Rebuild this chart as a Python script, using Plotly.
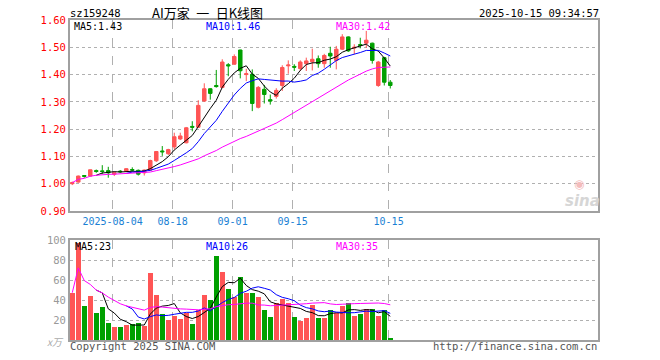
import math
import plotly.graph_objects as go
import pandas as pd

dates = ["07-24", "07-25", "07-28", "07-29", "07-30", "07-31", "08-01", "08-04", "08-05", "08-06",
         "08-07", "08-08", "08-11", "08-12", "08-13", "08-14", "08-15", "08-18", "08-19", "08-20",
         "08-21", "08-22", "08-25", "08-26", "08-27", "08-28", "08-29", "09-01", "09-02", "09-03",
         "09-04", "09-05", "09-08", "09-09", "09-10", "09-11", "09-12", "09-15", "09-16", "09-17",
         "09-18", "09-19", "09-22", "09-23", "09-24", "09-25", "09-26", "09-29", "09-30", "10-09",
         "10-10", "10-13", "10-14", "10-15"]

open_ = [1.000, 1.006, 1.030, 1.028, 1.048, 1.047, 1.048, 1.035, 1.046, 1.046,
         1.052, 1.049, 1.040, 1.050, 1.084, 1.120, 1.110, 1.135, 1.164, 1.150,
         1.210, 1.207, 1.303, 1.348, 1.360, 1.353, 1.436, 1.438, 1.490, 1.400,
         1.401, 1.280, 1.346, 1.308, 1.320, 1.360, 1.432, 1.430, 1.422, 1.440,
         1.447, 1.458, 1.440, 1.478, 1.452, 1.493, 1.538, 1.497, 1.510, 1.515,
         1.515, 1.360, 1.462, 1.372]
high = [1.008, 1.030, 1.031, 1.052, 1.052, 1.068, 1.062, 1.045, 1.050, 1.057,
        1.060, 1.052, 1.052, 1.088, 1.120, 1.138, 1.128, 1.187, 1.187, 1.208,
        1.229, 1.306, 1.368, 1.350, 1.417, 1.456, 1.442, 1.474, 1.491, 1.421,
        1.419, 1.358, 1.362, 1.327, 1.350, 1.434, 1.452, 1.438, 1.452, 1.462,
        1.495, 1.470, 1.476, 1.502, 1.505, 1.548, 1.540, 1.511, 1.535, 1.560,
        1.517, 1.450, 1.465, 1.380]
low = [0.995, 1.004, 1.022, 1.026, 1.040, 1.036, 1.022, 1.028, 1.040, 1.043,
       1.044, 1.030, 1.030, 1.048, 1.080, 1.102, 1.105, 1.125, 1.160, 1.148,
       1.192, 1.205, 1.300, 1.308, 1.352, 1.350, 1.394, 1.436, 1.386, 1.376,
       1.266, 1.276, 1.294, 1.290, 1.312, 1.340, 1.403, 1.413, 1.413, 1.413,
       1.415, 1.425, 1.425, 1.425, 1.419, 1.490, 1.483, 1.474, 1.496, 1.498,
       1.440, 1.355, 1.360, 1.349]
close = [1.004, 1.028, 1.027, 1.051, 1.045, 1.045, 1.040, 1.040, 1.044, 1.055,
         1.050, 1.035, 1.050, 1.085, 1.118, 1.117, 1.125, 1.172, 1.175, 1.205,
         1.207, 1.287, 1.348, 1.331, 1.356, 1.446, 1.432, 1.466, 1.414, 1.403,
         1.294, 1.353, 1.327, 1.303, 1.342, 1.426, 1.435, 1.427, 1.446, 1.450,
         1.456, 1.440, 1.470, 1.468, 1.493, 1.538, 1.487, 1.500, 1.507, 1.526,
         1.452, 1.446, 1.372, 1.360]
volume = [47.3, 97.0, 34.0, 44.0, 27.3, 33.3, 17.3, 13.0, 13.0, 15.0,
          16.0, 16.7, 14.3, 67.3, 45.0, 26.0, 20.0, 24.0, 20.7, 26.7,
          16.0, 30.0, 45.0, 40.0, 84.0, 68.0, 51.0, 43.3, 63.0, 47.3,
          47.3, 43.3, 30.0, 23.0, 37.3, 41.0, 37.3, 23.0, 19.3, 22.3,
          35.0, 22.3, 22.3, 30.0, 26.7, 34.0, 37.3, 24.0, 26.0, 31.0,
          31.0, 24.0, 30.0, 2.3]

price_ticks = [0.90, 1.00, 1.10, 1.20, 1.30, 1.40, 1.50, 1.60]
vol_ticks = [20, 40, 60, 80, 100]
date_ticks = ["08-04", "08-18", "09-01", "09-15", "10-15"]
date_tick_text = ["2025-08-04", "08-18", "09-01", "09-15", "10-15"]

RED = "#ff5555"
GREEN = "#00a000"
MONO = "DejaVu Sans Mono"

idx = list(range(len(dates)))
cs = pd.Series(close)
vs = pd.Series(volume)
ma5 = cs.rolling(5).mean()
ma10 = cs.rolling(10).mean()
ma30 = cs.rolling(30, min_periods=1).mean()
vma5 = vs.rolling(5).mean()
vma10 = vs.rolling(10).mean()
vma30 = vs.rolling(30, min_periods=1).mean()
vol_colors = [RED if c >= o else GREEN for o, c in zip(open_, close)]


def trunc2(v):
    return "%.2f" % (math.floor(v * 100 + 1e-9) / 100)


tick_pos = [dates.index(d) - 0.28 for d in date_ticks]

fig = go.Figure()
fig.add_trace(go.Candlestick(
    x=idx, open=open_, high=high, low=low, close=close,
    increasing=dict(line=dict(color=RED, width=1), fillcolor=RED),
    decreasing=dict(line=dict(color=GREEN, width=1), fillcolor=GREEN),
    xaxis="x", yaxis="y", hoverinfo="skip", showlegend=False))
for s, col in [(ma5, "#000000"), (ma10, "#0000ff"), (ma30, "#ff00ff")]:
    fig.add_trace(go.Scatter(x=idx, y=s, mode="lines", line=dict(color=col, width=1),
                             xaxis="x", yaxis="y", hoverinfo="skip", showlegend=False))

fig.add_trace(go.Bar(x=idx, y=volume, marker=dict(color=vol_colors, line=dict(width=0)),
                     width=0.86, xaxis="x2", yaxis="y2", hoverinfo="skip", showlegend=False))
for s, col in [(vma5, "#000000"), (vma10, "#0000ff"), (vma30, "#ff00ff")]:
    fig.add_trace(go.Scatter(x=idx, y=s, mode="lines", line=dict(color=col, width=1),
                             xaxis="x2", yaxis="y2", hoverinfo="skip", showlegend=False))

L, R, T, B = 70, 598, 20, 340
W = R - L
H = B - T
xr = [-0.38, (R - L) / 6.0 - 0.38]

axis_common = dict(showline=True, mirror=True, linecolor="#a0a0a0", linewidth=2,
                   zeroline=False, ticks="", fixedrange=True)

fig.update_layout(
    width=660, height=360,
    margin=dict(l=L, r=660 - R, t=T, b=360 - B),
    paper_bgcolor="#ffffff", plot_bgcolor="#ffffff",
    showlegend=False, boxgap=0.17, bargap=0,
    xaxis=dict(domain=[0, 1], range=xr, anchor="y", tickvals=tick_pos, ticktext=date_tick_text,
               tickfont=dict(family=MONO, size=10, color="#1a7fd4"),
               showgrid=True, gridcolor="#b0b0b0", griddash="dash", gridwidth=1,
               rangeslider=dict(visible=False), **axis_common),
    yaxis=dict(domain=[(B - 211) / H, 1], range=[0.9, 1.6], tickvals=price_ticks, tickformat=".2f",
               tickfont=dict(family=MONO, size=10.5, color="#ff0000"),
               showgrid=True, gridcolor="#b0b0b0", griddash="dot", gridwidth=1, **axis_common),
    xaxis2=dict(domain=[0, 1], range=xr, anchor="y2", tickvals=tick_pos, showticklabels=False,
                showgrid=True, gridcolor="#b0b0b0", griddash="dash", gridwidth=1, **axis_common),
    yaxis2=dict(domain=[0, (B - 240) / H], range=[0, 100], tickvals=vol_ticks,
                tickfont=dict(family=MONO, size=10.5, color="#999999"),
                showgrid=True, gridcolor="#b0b0b0", griddash="dot", gridwidth=1, **axis_common),
)


def px(x):
    return (x - L) / W


def py(y):
    return (B - y) / H


def note(text, x, y, anchor="left", color="#000000", size=10, family=MONO, italic=False, weight="normal"):
    fig.add_annotation(text=text, x=px(x), y=py(y), xref="paper", yref="paper",
                       xanchor=anchor, yanchor="middle", showarrow=False,
                       font=dict(family=family, size=size, color=color, weight=weight,
                                 style="italic" if italic else "normal"))


note("sz159248", 68, 12.5, size=10.5)
note("AI万家\u2002一\u2002日K线图", 207, 12.5, anchor="center", size=13, family="Noto Sans CJK SC")
note("2025-10-15 09:34:57", 601, 12.5, anchor="right", size=10.5)

note("MA5:" + trunc2(ma5.iloc[-1]), 72, 26, color="#000000")
note("MA10:" + trunc2(ma10.iloc[-1]), 204, 26, color="#0000ff")
note("MA30:" + trunc2(ma30.iloc[-1]), 334, 26, color="#ff00ff")

note("MA5:%d" % int(vma5.iloc[-1]), 73, 246, color="#000000")
note("MA10:%d" % int(vma10.iloc[-1]), 204, 246, color="#0000ff")
note("MA30:%d" % int(vma30.iloc[-1]), 334, 246, color="#ff00ff")

note("x万", 66, 341, anchor="right", color="#aaaaaa", size=10, family="Noto Sans CJK SC", italic=True)
note("Copyright 2025 SINA.COM", 68, 346, color="#555555", size=10.5)
note("http://finance.sina.com.cn", 599, 346, anchor="right", color="#555555", size=10.5)

note("sina", 582, 201, anchor="center", color="#d6d6d6", size=15, family="DejaVu Sans",
     italic=True, weight="bold")
note("◉", 579, 184, anchor="center", color="#f4bcbc", size=12, family="DejaVu Sans")

fig.write_html("out.html", config={"displayModeBar": False},
               post_script="document.body.style.margin='0';document.body.style.padding='0';")
